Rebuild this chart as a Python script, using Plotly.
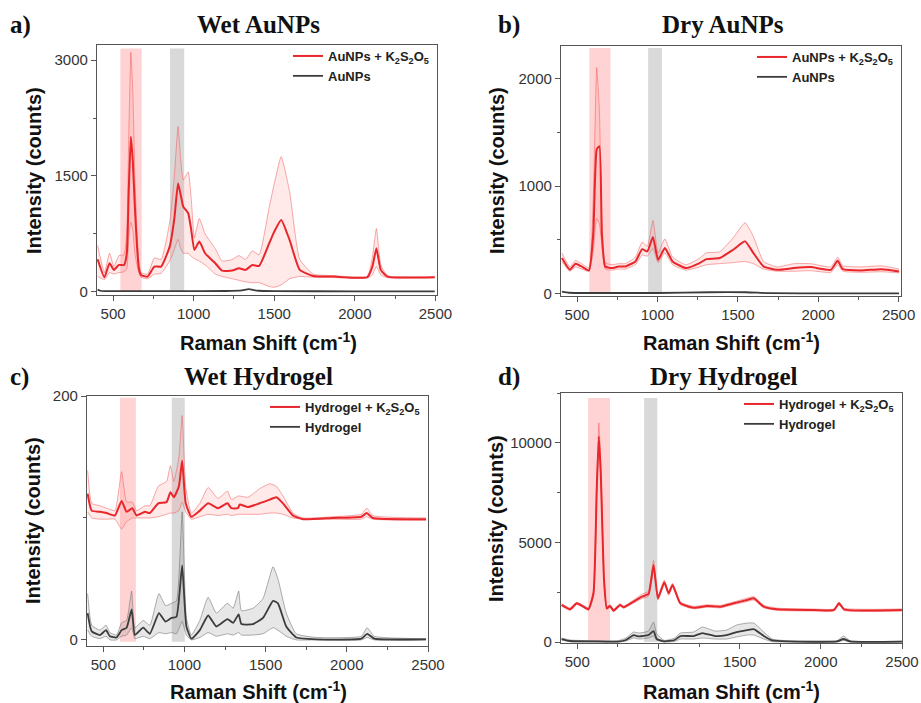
import plotly.graph_objects as go

W, H = 921, 703

# ---------------- Panel a: Wet AuNPs ----------------
xa = [404, 446, 478, 505, 536, 568, 585, 597, 610, 622, 635, 648, 660, 673, 714, 756, 798, 851, 880, 903,
      920, 935, 966, 985, 1004, 1035, 1071, 1134, 1176, 1239, 1281, 1322, 1364, 1406, 1469, 1500, 1543, 1595,
      1658, 1742, 1868, 2077, 2109, 2134, 2161, 2203, 2496]
a_mix_mean = [423, 190, 371, 285, 349, 349, 500, 1300, 2009, 1700, 1100, 600, 300, 220, 198, 328, 328, 586, 950, 1406,
              1250, 1104, 1018, 800, 543, 651, 500, 371, 276, 276, 306, 285, 349, 336, 630, 780, 931, 673,
              285, 207, 198, 190, 328, 565, 285, 198, 190]
a_mix_up = [600, 250, 500, 330, 470, 480, 800, 2000, 3100, 2600, 1500, 800, 400, 250, 230, 440, 420, 900, 1500, 2140,
            1700, 1450, 1550, 1200, 700, 950, 750, 560, 400, 420, 470, 420, 530, 480, 1100, 1400, 1750, 1300,
            420, 230, 210, 200, 450, 820, 350, 210, 195]
a_mix_lo = [200, 160, 250, 230, 250, 260, 300, 700, 900, 800, 500, 350, 250, 190, 170, 230, 240, 400, 550, 680,
            560, 500, 500, 460, 430, 400, 350, 230, 200, 170, 150, 130, 120, 120, 70, 60, 90, 170,
            200, 190, 185, 180, 220, 330, 220, 185, 185]
xa_ctrl = [404, 420, 450, 600, 900, 1200, 1300, 1340, 1400, 1500, 2000, 2496]
a_ctrl_mean = [30, 15, 10, 10, 10, 12, 20, 35, 15, 10, 8, 8]

# ---------------- Panel b: Dry AuNPs ----------------
xb = [406, 455, 490, 528, 574, 601, 622, 639, 654, 675, 717, 758, 800, 863, 905, 937, 972, 1004, 1046, 1094,
      1178, 1262, 1304, 1387, 1471, 1545, 1597, 1660, 1744, 1849, 1953, 2079, 2121, 2153, 2268, 2394, 2503]
b_mix_mean = [332, 223, 279, 254, 217, 564, 1340, 1370, 564, 254, 239, 254, 254, 301, 415, 394, 527, 316, 425, 301,
              239, 285, 322, 332, 409, 487, 378, 254, 223, 239, 248, 223, 307, 229, 217, 229, 208]
b_mix_up = [380, 250, 310, 280, 240, 900, 2100, 1700, 700, 290, 270, 280, 280, 340, 480, 440, 680, 380, 510, 340,
            270, 330, 380, 390, 520, 660, 530, 300, 250, 280, 280, 250, 340, 260, 250, 260, 230]
b_mix_lo = [300, 210, 250, 230, 210, 400, 700, 650, 450, 230, 220, 230, 230, 270, 360, 350, 420, 290, 380, 270,
            220, 250, 270, 280, 290, 300, 280, 230, 210, 210, 215, 200, 270, 210, 200, 205, 195]
xb_ctrl = [406, 450, 700, 1000, 1330, 1550, 1700, 2100, 2503]
b_ctrl_mean = [20, 10, 8, 8, 15, 15, 6, 5, 5]

# ---------------- Panel c: Wet Hydrogel ----------------
xc = [404, 429, 480, 521, 572, 613, 644, 679, 705, 757, 787, 839, 890, 914, 935, 966, 986, 1008, 1043, 1095,
      1146, 1207, 1265, 1289, 1330, 1340, 1392, 1463, 1525, 1566, 1607, 1668, 1730, 1914, 2089, 2123, 2160, 2488]
c_mix_mean = [120, 106, 105, 104, 102, 114, 105, 108, 102, 105, 104, 112, 113, 121, 117, 126, 147, 112, 101, 106,
              112, 108, 112, 108, 108, 111, 109, 112, 115, 117, 112, 102, 99, 100, 101, 104, 100, 99]
c_mix_up = [139, 112, 110, 108, 106, 138, 113, 113, 106, 110, 110, 126, 130, 143, 130, 150, 184, 125, 104, 112,
            125, 116, 122, 115, 118, 118, 117, 124, 128, 126, 118, 104, 100, 101, 103, 108, 102, 100]
c_mix_lo = [105, 100, 99, 99, 99, 91, 97, 100, 100, 100, 100, 101, 103, 104, 104, 106, 113, 105, 99, 101,
            103, 102, 103, 102, 103, 103, 103, 103, 104, 104, 103, 100, 99, 99, 99, 101, 99, 98]
xc_ctrl = [404, 429, 480, 517, 541, 582, 613, 644, 675, 695, 746, 787, 843, 884, 920, 951, 986, 1012, 1043, 1095,
           1146, 1197, 1265, 1300, 1334, 1351, 1423, 1484, 1546, 1576, 1627, 1689, 1812, 2089, 2125, 2170, 2488]
c_ctrl_mean = [22, 7, 4, 8, 3, 2, 8, 10, 25, 4, 10, 5, 22, 15, 18, 19, 61, 11, 1, 8,
               20, 11, 17, 14, 21, 13, 13, 18, 32, 30, 11, 2, 0.5, 1, 5, 1, 0.5]
c_ctrl_up = [38, 12, 8, 12, 6, 4, 14, 16, 40, 10, 16, 12, 38, 28, 30, 32, 105, 18, 4, 16,
             35, 22, 30, 26, 40, 24, 26, 34, 60, 50, 22, 5, 2, 3, 10, 3, 1]
c_ctrl_lo = [8, 3, 1, 3, 0, 0, 3, 4, 10, 1, 3, 1, 6, 5, 6, 5, 15, 4, 0, 2,
             6, 3, 5, 4, 6, 4, 4, 5, 10, 8, 3, 0, 0, 0, 2, 0, 0]

# ---------------- Panel d: Dry Hydrogel ----------------
xd = [404, 456, 497, 538, 569, 600, 620, 633, 645, 665, 682, 702, 723, 764, 785, 847, 898, 939, 970, 997,
      1036, 1063, 1087, 1135, 1217, 1299, 1381, 1464, 1546, 1587, 1649, 1731, 1937, 2081, 2112, 2143, 2499]
d_mix_mean = [1859, 1642, 1943, 1776, 1642, 2446, 7638, 10318, 8476, 3116, 1692, 1809, 1575, 1859, 1742, 2027, 2278,
              2412, 3869, 2194, 2998, 2446, 2864, 1943, 1725, 1809, 1776, 1943, 2110, 2194, 1776, 1642, 1608, 1608,
              1943, 1642, 1608]
d_mix_up = [1920, 1700, 2000, 1840, 1700, 2600, 8000, 11000, 8900, 3300, 1760, 1870, 1640, 1920, 1800, 2100, 2400,
            2550, 4100, 2300, 3100, 2550, 2950, 2010, 1790, 1870, 1840, 2010, 2200, 2280, 1840, 1700, 1660, 1660,
            2010, 1700, 1660]
d_mix_lo = [1800, 1590, 1890, 1720, 1590, 2300, 7300, 9800, 8100, 2950, 1630, 1750, 1515, 1800, 1690, 1960, 2180,
            2300, 3650, 2100, 2900, 2350, 2780, 1880, 1665, 1750, 1715, 1880, 2030, 2110, 1715, 1585, 1555, 1555,
            1880, 1585, 1555]
xd_ctrl = [404, 456, 600, 750, 800, 847, 880, 939, 970, 990, 1036, 1100, 1135, 1217, 1270, 1350, 1420, 1480, 1546,
           1587, 1649, 1700, 1800, 2100, 2140, 2180, 2499]
d_ctrl_mean = [150, 50, 30, 20, 100, 350, 280, 350, 550, 150, 30, 100, 300, 300, 450, 300, 350, 500, 600,
               650, 300, 80, 30, 30, 150, 30, 20]
d_ctrl_up = [200, 100, 60, 60, 200, 500, 450, 550, 1000, 400, 80, 200, 450, 500, 750, 550, 600, 850, 950,
             950, 500, 150, 60, 60, 300, 60, 40]
d_ctrl_lo = [100, 20, 0, 0, 50, 200, 150, 200, 300, 80, 0, 30, 150, 150, 200, 150, 150, 250, 350,
             350, 150, 20, 0, 0, 80, 0, 0]

# ---------------- text ----------------
panel_letters = ["a)", "b)", "c)", "d)"]
panel_titles = ["Wet AuNPs", "Dry AuNPs", "Wet Hydrogel", "Dry Hydrogel"]
mix_names = ["AuNPs + K<sub>2</sub>S<sub>2</sub>O<sub>5</sub>", "AuNPs + K<sub>2</sub>S<sub>2</sub>O<sub>5</sub>",
             "Hydrogel + K<sub>2</sub>S<sub>2</sub>O<sub>5</sub>", "Hydrogel + K<sub>2</sub>S<sub>2</sub>O<sub>5</sub>"]
ctrl_names = ["AuNPs", "AuNPs", "Hydrogel", "Hydrogel"]
x_title = "Raman Shift (cm<sup>-1</sup>)"
y_title = "Intensity (counts)"
x_ticks = [500, 1000, 1500, 2000, 2500]
x_minor_ticks = [750, 1250, 1750, 2250]

# highlighted bands (x0, x1, ytop)
red_bands = [(545, 677, 3150), (576, 708, 2282), (603, 701, 198.5), (567, 702, 12250)]
gray_bands = [(853, 941, 3150), (942, 1028, 2282), (922, 1002, 198.5), (912, 993, 12250)]
band_bottom = [0, 0, -1.5, 0]

# ---------------- layout geometry (pixel boxes) ----------------
boxes = [(97, 437, 45, 295), (561, 901, 46, 296), (87, 428, 396, 646), (561, 902, 393, 643)]
xranges = [[400, 2510], [400, 2515], [400, 2500], [400, 2500]]
yranges = [[-40, 3195], [-20, 2300], [-5, 200], [-50, 12500]]
ydticks = [1500, 1000, 200, 5000]

def px(x):
    return x / W

def py(y):
    return 1 - y / H

RED = "#E8262B"
RED_LIGHT = "rgba(240,90,90,0.75)"
RED_FILL = "rgba(255,120,120,0.16)"
GRAY = "#3C3C3C"
GRAY_LIGHT = "rgba(110,110,110,0.8)"
GRAY_FILL = "rgba(120,120,120,0.18)"
SANS = "Liberation Sans, Arial, sans-serif"
SERIF = "Liberation Serif, Times New Roman, serif"

fig = go.Figure()

panels = [
    (xa, a_mix_mean, a_mix_up, a_mix_lo, xa_ctrl, a_ctrl_mean, None, None),
    (xb, b_mix_mean, b_mix_up, b_mix_lo, xb_ctrl, b_ctrl_mean, None, None),
    (xc, c_mix_mean, c_mix_up, c_mix_lo, xc_ctrl, c_ctrl_mean, c_ctrl_up, c_ctrl_lo),
    (xd, d_mix_mean, d_mix_up, d_mix_lo, xd_ctrl, d_ctrl_mean, d_ctrl_up, d_ctrl_lo),
]

shapes = []
annotations = []
layout_axes = {}

for i, (x, m, up, lo, xcn, cm, cup, clo) in enumerate(panels):
    n = "" if i == 0 else str(i + 1)
    xr = "x" + n
    yr = "y" + n
    leg = "legend" + n
    line_shape = dict(shape="spline", smoothing=0.45)

    # control band
    if cup is not None:
        fig.add_trace(go.Scatter(x=xcn, y=clo, xaxis=xr, yaxis=yr, mode="lines",
                                 line=dict(color=GRAY_LIGHT, width=0.7, **line_shape),
                                 showlegend=False, hoverinfo="skip"))
        fig.add_trace(go.Scatter(x=xcn, y=cup, xaxis=xr, yaxis=yr, mode="lines", fill="tonexty",
                                 fillcolor=GRAY_FILL,
                                 line=dict(color=GRAY_LIGHT, width=0.7, **line_shape),
                                 showlegend=False, hoverinfo="skip"))
    # mixture band
    fig.add_trace(go.Scatter(x=x, y=lo, xaxis=xr, yaxis=yr, mode="lines",
                             line=dict(color=RED_LIGHT, width=0.7, **line_shape),
                             showlegend=False, hoverinfo="skip"))
    fig.add_trace(go.Scatter(x=x, y=up, xaxis=xr, yaxis=yr, mode="lines", fill="tonexty",
                             fillcolor=RED_FILL,
                             line=dict(color=RED_LIGHT, width=0.7, **line_shape),
                             showlegend=False, hoverinfo="skip"))
    # mean lines
    fig.add_trace(go.Scatter(x=x, y=m, xaxis=xr, yaxis=yr, mode="lines",
                             line=dict(color=RED, width=2, **line_shape),
                             name="<b>" + mix_names[i] + "</b>", legend=leg))
    fig.add_trace(go.Scatter(x=xcn, y=cm, xaxis=xr, yaxis=yr, mode="lines",
                             line=dict(color=GRAY, width=1.8, **line_shape),
                             name="<b>" + ctrl_names[i] + "</b>", legend=leg))

    x0, x1, y0, y1 = boxes[i]
    axis_common = dict(showline=True, linecolor="#555555", linewidth=1.2, mirror=True,
                       ticks="outside", ticklen=5, tickwidth=1.2, tickcolor="#555555",
                       showgrid=False, zeroline=False, automargin=False,
                       tickfont=dict(family=SANS, size=15, color="#333333"))
    layout_axes["xaxis" + n] = dict(domain=[px(x0), px(x1)], range=xranges[i], anchor=yr,
                                    tickmode="array", tickvals=x_ticks,
                                    minor=dict(ticks="outside", ticklen=3, tickwidth=1, tickcolor="#555555",
                                               tickvals=x_minor_ticks),
                                    **axis_common)
    layout_axes["yaxis" + n] = dict(domain=[py(y1), py(y0)], range=yranges[i], anchor=xr,
                                    tick0=0, dtick=ydticks[i], tickformat="d",
                                    minor=dict(ticks="outside", ticklen=3, tickwidth=1, tickcolor="#555555",
                                               dtick=ydticks[i] / 2),
                                    **axis_common)

    # legend
    layout_axes[leg] = dict(x=px(x1 - 3), y=py(y0 - 4), xanchor="right", yanchor="top",
                            bgcolor="rgba(0,0,0,0)", borderwidth=0, tracegroupgap=0, traceorder="normal",
                            itemwidth=30, font=dict(family=SANS, size=13, color="#222222"))

    # bands
    rb = red_bands[i]
    gb = gray_bands[i]
    shapes.append(dict(type="rect", xref=xr, yref=yr, x0=rb[0], x1=rb[1], y0=band_bottom[i], y1=rb[2],
                       fillcolor="#FFD3D3", line=dict(width=0), layer="below"))
    shapes.append(dict(type="rect", xref=xr, yref=yr, x0=gb[0], x1=gb[1], y0=band_bottom[i], y1=gb[2],
                       fillcolor="#D9D9D9", line=dict(width=0), layer="below"))

# titles & letters
letter_pos = [(8, 25), (496, 25), (8, 377), (496, 377)]
title_pos = [(258, 25), (723, 25), (258, 376), (723, 377)]
xt_pos = [(268, 341), (731, 341), (258, 690), (731, 690)]
yt_pos = [(34, 171), (497, 171), (33, 521), (496, 519)]
for i in range(4):
    annotations.append(dict(text="<b>" + panel_letters[i] + "</b>", xref="paper", yref="paper",
                            x=px(letter_pos[i][0]), y=py(letter_pos[i][1]), xanchor="left", yanchor="middle",
                            showarrow=False, font=dict(family=SERIF, size=25, color="#111111")))
    annotations.append(dict(text="<b>" + panel_titles[i] + "</b>", xref="paper", yref="paper",
                            x=px(title_pos[i][0]), y=py(title_pos[i][1]), xanchor="center", yanchor="middle",
                            showarrow=False, font=dict(family=SERIF, size=25, color="#111111")))
    annotations.append(dict(text="<b>" + x_title + "</b>", xref="paper", yref="paper",
                            x=px(xt_pos[i][0]), y=py(xt_pos[i][1]), xanchor="center", yanchor="middle",
                            showarrow=False, font=dict(family=SANS, size=20, color="#111111")))
    annotations.append(dict(text="<b>" + y_title + "</b>", xref="paper", yref="paper", textangle=-90,
                            x=px(yt_pos[i][0]), y=py(yt_pos[i][1]), xanchor="center", yanchor="middle",
                            showarrow=False, font=dict(family=SANS, size=20, color="#111111")))

fig.update_layout(width=W, height=H, margin=dict(l=0, r=0, t=0, b=0, autoexpand=False),
                  paper_bgcolor="white", plot_bgcolor="white",
                  shapes=shapes, annotations=annotations, **layout_axes)

fig.write_html("out.html", config={"displayModeBar": False},
               post_script="document.body.style.margin='0';document.body.style.overflow='hidden';")
